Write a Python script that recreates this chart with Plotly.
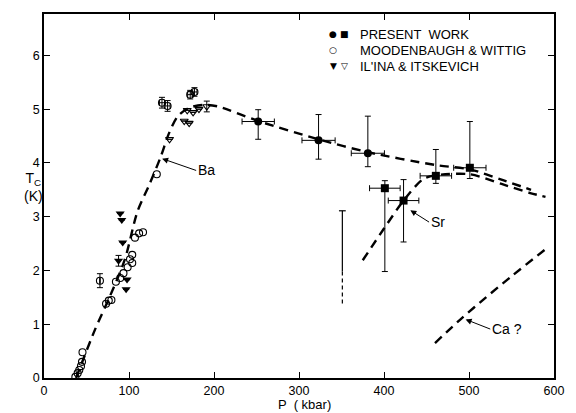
import plotly.graph_objects as go

# ---------------- data (P in kbar, Tc in K) ----------------
# Present work: Ba (filled circles)
pw_ba_p = [252, 323, 381]
pw_ba_tc = [4.77, 4.42, 4.18]
pw_ba_perr = [19, 19.5, 19.5]
pw_ba_tc_up = [0.22, 0.48, 0.69]
pw_ba_tc_dn = [0.33, 0.35, 0.25]

# Present work: Sr (filled squares)
pw_sr_p = [401, 423, 461, 501]
pw_sr_tc = [3.53, 3.30, 3.76, 3.91]
pw_sr_perr = [18, 18, 18.5, 19]
pw_sr_tc_up = [0.14, 0.39, 0.49, 0.86]
pw_sr_tc_dn = [1.55, 0.77, 0.14, 0.20]

# Moodenbaugh & Wittig (open circles)
mw_p = [36.9, 39.6, 41.5, 43.5, 44.7, 45.3, 73, 76.2, 79.3, 84.6, 89.7, 93.5,
        98.4, 103.8, 101.2, 103.8, 107, 111.9, 116.5, 132.7]
mw_tc = [0.02, 0.09, 0.15, 0.22, 0.30, 0.48, 1.38, 1.44, 1.45, 1.79, 1.86, 1.95,
         2.06, 2.14, 2.21, 2.29, 2.61, 2.69, 2.71, 3.79]
# Moodenbaugh & Wittig points with error bars
mwe_p = [65.8, 138.8, 145.4, 172, 177]
mwe_tc = [1.81, 5.12, 5.06, 5.27, 5.32]
mwe_perr = [0, 3, 3, 3, 3]
mwe_tc_err = [0.13, 0.1, 0.1, 0.08, 0.08]

# Il'ina & Itskevich (filled and open down-triangles)
ii_f_p = [89.6, 91.5, 92.6, 87.7, 97.7, 96.6]
ii_f_tc = [3.06, 2.94, 2.52, 2.18, 1.83, 1.65]
ii_f_tc_err = [0, 0, 0, 0.1, 0, 0]
ii_o_p = [147.7, 165, 170.8, 168.5, 175.4, 182.3, 191.5]
ii_o_tc = [4.44, 4.78, 4.74, 4.98, 4.94, 5.00, 5.05]
ii_o_tc_err = [0, 0, 0, 0, 0, 0, 0.1]

# Dashed guide curves
ba_curve_p = [37.7, 60, 77, 95, 110, 124, 137, 147, 157, 170, 188, 205,
              252, 323, 381, 461, 501, 540, 573]
ba_curve_tc = [0.0, 0.9, 1.5, 2.2, 3.1, 3.6, 4.1, 4.55, 4.86, 5.02, 5.08, 5.05,
               4.78, 4.44, 4.2, 3.96, 3.88, 3.68, 3.5]
sr_curve_p = [375, 400, 423, 446, 461, 501, 540, 572, 590]
sr_curve_tc = [2.19, 2.78, 3.30, 3.70, 3.77, 3.79, 3.6, 3.44, 3.37]
ca_curve_p = [460, 492, 520, 549, 592]
ca_curve_tc = [0.65, 1.12, 1.50, 1.88, 2.42]

# Isolated vertical bar near 350 kbar
vbar_p = [351]
vbar_top = [3.11]
vbar_mid = [1.98]
vbar_bot = [1.33]

x_ticks = [0, 100, 200, 300, 400, 500, 600]
y_ticks = [0, 1, 2, 3, 4, 5, 6]

# ---------------- figure ----------------
BLACK = "black"
DASH = "9px,6px"
fig = go.Figure()

for px_, py_ in [(ba_curve_p, ba_curve_tc), (sr_curve_p, sr_curve_tc), (ca_curve_p, ca_curve_tc)]:
    fig.add_trace(go.Scatter(x=px_, y=py_, mode="lines",
                             line=dict(color=BLACK, width=2.4, dash=DASH, shape="spline", smoothing=0.8),
                             hoverinfo="skip"))

# vertical bar: solid part with cap, dashed lower part
fig.add_trace(go.Scatter(x=vbar_p * 2, y=[vbar_top[0], vbar_mid[0]], mode="lines",
                         line=dict(color=BLACK, width=1.2)))
fig.add_trace(go.Scatter(x=[vbar_p[0] - 4, vbar_p[0] + 4], y=vbar_top * 2, mode="lines",
                         line=dict(color=BLACK, width=1.2)))
fig.add_trace(go.Scatter(x=vbar_p * 2, y=[vbar_mid[0], vbar_bot[0]], mode="lines",
                         line=dict(color=BLACK, width=1.2, dash="4px,3px")))

eb = dict(color=BLACK, thickness=1, width=3)

fig.add_trace(go.Scatter(
    x=pw_ba_p, y=pw_ba_tc, mode="markers",
    marker=dict(symbol="circle", size=8, color=BLACK),
    error_x=dict(type="data", array=pw_ba_perr, **eb),
    error_y=dict(type="data", array=pw_ba_tc_up, arrayminus=pw_ba_tc_dn, **eb)))

fig.add_trace(go.Scatter(
    x=pw_sr_p, y=pw_sr_tc, mode="markers",
    marker=dict(symbol="square", size=8, color=BLACK),
    error_x=dict(type="data", array=pw_sr_perr, **eb),
    error_y=dict(type="data", array=pw_sr_tc_up, arrayminus=pw_sr_tc_dn, **eb)))

fig.add_trace(go.Scatter(
    x=mw_p, y=mw_tc, mode="markers",
    marker=dict(symbol="circle-open", size=7, color=BLACK, line=dict(width=1.1))))

fig.add_trace(go.Scatter(
    x=mwe_p, y=mwe_tc, mode="markers",
    marker=dict(symbol="circle-open", size=7, color=BLACK, line=dict(width=1.1)),
    error_x=dict(type="data", array=mwe_perr, **eb),
    error_y=dict(type="data", array=mwe_tc_err, **eb)))

fig.add_trace(go.Scatter(
    x=ii_f_p, y=ii_f_tc, mode="markers",
    marker=dict(symbol="triangle-down", size=8, color=BLACK),
    error_y=dict(type="data", array=ii_f_tc_err, **eb)))

fig.add_trace(go.Scatter(
    x=ii_o_p, y=ii_o_tc, mode="markers",
    marker=dict(symbol="triangle-down-open", size=7, color=BLACK, line=dict(width=1.1)),
    error_y=dict(type="data", array=ii_o_tc_err, **eb)))

FONT = "Liberation Sans, Arial, sans-serif"
annotations = []

# legend (text glyphs)
legend_rows = [
    (6.39, "●", "■", "PRESENT  WORK"),
    (6.10, "○", "", "MOODENBAUGH & WITTIG"),
    (5.80, "▼", "▽", "IL'INA & ITSKEVICH"),
]
for yv, s1, s2, txt in legend_rows:
    annotations.append(dict(x=340.5, y=yv, xref="x", yref="y", text=s1, showarrow=False,
                            font=dict(family="DejaVu Sans", size=9, color=BLACK)))
    if s2:
        annotations.append(dict(x=353, y=yv, xref="x", yref="y", text=s2, showarrow=False,
                                font=dict(family="DejaVu Sans", size=9, color=BLACK)))
    annotations.append(dict(x=369, y=yv, xref="x", yref="y", text=txt, showarrow=False,
                            xanchor="left", font=dict(family=FONT, size=13, color=BLACK)))

# curve labels with arrows (text anchored at the arrow tail)
labels = [
    # text, text-left anchor (tail), arrow head
    ("Ba", (179, 3.86), (139, 4.08)),
    ("Sr", (453, 2.90), (431, 3.12)),
    ("Ca ?", (525, 0.91), (496, 1.09)),
]
for txt, tail, head in labels:
    annotations.append(dict(x=head[0], y=head[1], ax=tail[0], ay=tail[1], xref="x", yref="y",
                            axref="x", ayref="y", text=txt, showarrow=True, arrowhead=2,
                            xanchor="left", yanchor="middle", standoff=0, startstandoff=0,
                            arrowsize=1.2, arrowwidth=1, arrowcolor=BLACK,
                            font=dict(family=FONT, size=14, color=BLACK)))

# axis titles
annotations.append(dict(x=-0.043, y=3.56, xref="paper", yref="y", text="T<sub>C</sub><br>(K)",
                        showarrow=False, align="center",
                        font=dict(family=FONT, size=14, color=BLACK)))
annotations.append(dict(x=0.51, y=-0.0725, xref="paper", yref="paper", text="P  ( kbar)",
                        showarrow=False, yanchor="middle", borderpad=0,
                        font=dict(family=FONT, size=13, color=BLACK)))

axis_common = dict(showline=True, linecolor=BLACK, linewidth=1.5, mirror="ticks",
                   ticks="inside", ticklen=6, tickwidth=1.2, tickcolor=BLACK,
                   showgrid=False, zeroline=False,
                   tickfont=dict(family=FONT, size=12.5, color=BLACK))

fig.update_layout(
    width=576, height=413,
    margin=dict(l=44, r=12, t=14, b=35),
    paper_bgcolor="white", plot_bgcolor="white",
    showlegend=False,
    xaxis=dict(range=[0, 600], tickvals=x_ticks, ticktext=[str(v) for v in x_ticks], **axis_common),
    yaxis=dict(range=[0, 6.77], tickvals=y_ticks, ticktext=[str(v) for v in y_ticks], **axis_common),
    annotations=annotations,
)

fig.write_html("out.html")
